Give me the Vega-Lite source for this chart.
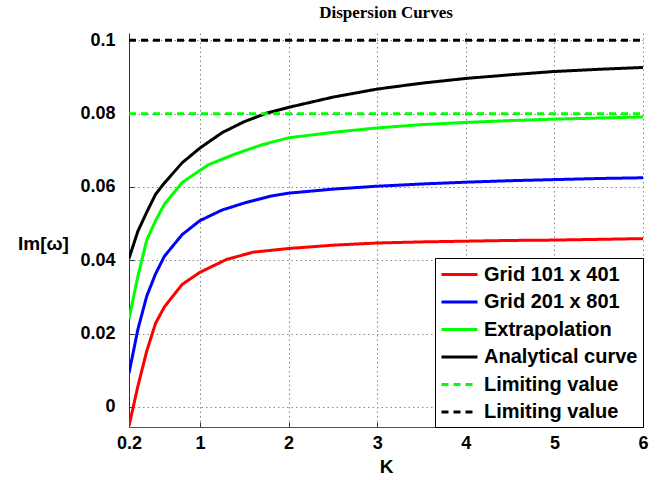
{
  "$schema": "https://vega.github.io/schema/vega-lite/v6.json",
  "width": 514,
  "height": 394,
  "autosize": "none",
  "padding": {"left": 129, "top": 33, "right": 19, "bottom": 53},
  "background": "white",
  "title": {"text": "Dispersion Curves", "font": "Liberation Serif", "fontSize": 17, "fontWeight": "bold", "color": "black", "anchor": "middle", "offset": 9},
  "config": {
    "view": {"stroke": null},
    "axis": {
      "labelFont": "Liberation Sans", "labelFontWeight": "bold", "labelFontSize": 18, "labelColor": "black",
      "titleFont": "Liberation Sans", "titleFontWeight": "bold", "titleFontSize": 19, "titleColor": "black",
      "domainColor": "#333", "tickColor": "#333", "tickSize": -5,
      "gridColor": "#888", "gridDash": [1.5, 3], "gridWidth": 1
    },
    "legend": {
      "labelFont": "Liberation Sans", "labelFontWeight": "bold", "labelFontSize": 20, "labelColor": "black"
    }
  },
  "data": {"values": [
    {"k": 0.2, "v": -0.0052, "s": "Grid 101 x 401"},
    {"k": 0.3, "v": 0.0056, "s": "Grid 101 x 401"},
    {"k": 0.4, "v": 0.0152, "s": "Grid 101 x 401"},
    {"k": 0.5, "v": 0.0228, "s": "Grid 101 x 401"},
    {"k": 0.6, "v": 0.0273, "s": "Grid 101 x 401"},
    {"k": 0.8, "v": 0.0334, "s": "Grid 101 x 401"},
    {"k": 1.0, "v": 0.0367, "s": "Grid 101 x 401"},
    {"k": 1.3, "v": 0.0402, "s": "Grid 101 x 401"},
    {"k": 1.6, "v": 0.0422, "s": "Grid 101 x 401"},
    {"k": 2.0, "v": 0.0432, "s": "Grid 101 x 401"},
    {"k": 2.5, "v": 0.0441, "s": "Grid 101 x 401"},
    {"k": 3.0, "v": 0.0447, "s": "Grid 101 x 401"},
    {"k": 3.5, "v": 0.0450, "s": "Grid 101 x 401"},
    {"k": 4.0, "v": 0.0452, "s": "Grid 101 x 401"},
    {"k": 4.5, "v": 0.0454, "s": "Grid 101 x 401"},
    {"k": 5.0, "v": 0.0455, "s": "Grid 101 x 401"},
    {"k": 5.5, "v": 0.0457, "s": "Grid 101 x 401"},
    {"k": 6.0, "v": 0.0459, "s": "Grid 101 x 401"},
    {"k": 0.2, "v": 0.0092, "s": "Grid 201 x 801"},
    {"k": 0.3, "v": 0.0211, "s": "Grid 201 x 801"},
    {"k": 0.4, "v": 0.0302, "s": "Grid 201 x 801"},
    {"k": 0.5, "v": 0.0363, "s": "Grid 201 x 801"},
    {"k": 0.6, "v": 0.0411, "s": "Grid 201 x 801"},
    {"k": 0.8, "v": 0.0470, "s": "Grid 201 x 801"},
    {"k": 1.0, "v": 0.0508, "s": "Grid 201 x 801"},
    {"k": 1.25, "v": 0.0537, "s": "Grid 201 x 801"},
    {"k": 1.5, "v": 0.0556, "s": "Grid 201 x 801"},
    {"k": 1.8, "v": 0.0575, "s": "Grid 201 x 801"},
    {"k": 2.0, "v": 0.0583, "s": "Grid 201 x 801"},
    {"k": 2.5, "v": 0.0594, "s": "Grid 201 x 801"},
    {"k": 3.0, "v": 0.0602, "s": "Grid 201 x 801"},
    {"k": 3.5, "v": 0.0608, "s": "Grid 201 x 801"},
    {"k": 4.0, "v": 0.0613, "s": "Grid 201 x 801"},
    {"k": 4.5, "v": 0.0617, "s": "Grid 201 x 801"},
    {"k": 5.0, "v": 0.0620, "s": "Grid 201 x 801"},
    {"k": 5.5, "v": 0.0623, "s": "Grid 201 x 801"},
    {"k": 6.0, "v": 0.0625, "s": "Grid 201 x 801"},
    {"k": 0.2, "v": 0.0240, "s": "Extrapolation"},
    {"k": 0.3, "v": 0.0356, "s": "Extrapolation"},
    {"k": 0.4, "v": 0.0455, "s": "Extrapolation"},
    {"k": 0.5, "v": 0.0508, "s": "Extrapolation"},
    {"k": 0.6, "v": 0.0553, "s": "Extrapolation"},
    {"k": 0.8, "v": 0.0612, "s": "Extrapolation"},
    {"k": 1.0, "v": 0.0645, "s": "Extrapolation"},
    {"k": 1.1, "v": 0.0661, "s": "Extrapolation"},
    {"k": 1.4, "v": 0.0690, "s": "Extrapolation"},
    {"k": 1.7, "v": 0.0715, "s": "Extrapolation"},
    {"k": 2.0, "v": 0.0734, "s": "Extrapolation"},
    {"k": 2.5, "v": 0.0749, "s": "Extrapolation"},
    {"k": 3.0, "v": 0.0761, "s": "Extrapolation"},
    {"k": 3.5, "v": 0.0770, "s": "Extrapolation"},
    {"k": 4.0, "v": 0.0776, "s": "Extrapolation"},
    {"k": 4.5, "v": 0.0781, "s": "Extrapolation"},
    {"k": 5.0, "v": 0.0785, "s": "Extrapolation"},
    {"k": 5.5, "v": 0.0788, "s": "Extrapolation"},
    {"k": 6.0, "v": 0.0791, "s": "Extrapolation"},
    {"k": 0.2, "v": 0.0405, "s": "Analytical curve"},
    {"k": 0.3, "v": 0.0479, "s": "Analytical curve"},
    {"k": 0.4, "v": 0.0531, "s": "Analytical curve"},
    {"k": 0.5, "v": 0.0580, "s": "Analytical curve"},
    {"k": 0.6, "v": 0.0611, "s": "Analytical curve"},
    {"k": 0.8, "v": 0.0666, "s": "Analytical curve"},
    {"k": 1.0, "v": 0.0706, "s": "Analytical curve"},
    {"k": 1.25, "v": 0.0748, "s": "Analytical curve"},
    {"k": 1.5, "v": 0.0778, "s": "Analytical curve"},
    {"k": 1.75, "v": 0.0801, "s": "Analytical curve"},
    {"k": 2.0, "v": 0.0817, "s": "Analytical curve"},
    {"k": 2.5, "v": 0.0845, "s": "Analytical curve"},
    {"k": 3.0, "v": 0.0867, "s": "Analytical curve"},
    {"k": 3.5, "v": 0.0883, "s": "Analytical curve"},
    {"k": 4.0, "v": 0.0896, "s": "Analytical curve"},
    {"k": 4.5, "v": 0.0906, "s": "Analytical curve"},
    {"k": 5.0, "v": 0.0915, "s": "Analytical curve"},
    {"k": 5.5, "v": 0.0921, "s": "Analytical curve"},
    {"k": 6.0, "v": 0.0926, "s": "Analytical curve"},
    {"k": 0.2, "v": 0.08, "s": "Limiting value 0.08"},
    {"k": 6.0, "v": 0.08, "s": "Limiting value 0.08"},
    {"k": 0.2, "v": 0.1, "s": "Limiting value 0.1"},
    {"k": 6.0, "v": 0.1, "s": "Limiting value 0.1"}
  ]},
  "mark": {"type": "line", "strokeWidth": 3, "clip": true},
  "encoding": {
    "x": {"field": "k", "type": "quantitative", "title": "K",
      "scale": {"domain": [0.2, 6], "nice": false, "zero": false},
      "axis": {"values": [0.2, 1, 2, 3, 4, 5, 6], "format": "~g", "labelPadding": 12, "titleY": 39, "titleBaseline": "middle", "labelFlush": false, "domainColor": "#555"}},
    "y": {"field": "v", "type": "quantitative", "title": "Im[ω]",
      "scale": {"domain": [-0.0055, 0.102], "nice": false, "zero": false},
      "axis": {"values": [0, 0.02, 0.04, 0.06, 0.08, 0.1], "format": "~g", "labelPadding": 19, "titleAngle": 0, "titleAlign": "center", "titleBaseline": "middle", "titleX": -86, "titleY": 210, "labelFlush": false}},
    "color": {"field": "s", "type": "nominal",
      "scale": {"domain": ["Grid 101 x 401", "Grid 201 x 801", "Extrapolation", "Analytical curve", "Limiting value 0.08", "Limiting value 0.1"],
                "range": ["#ff0000", "#0000ff", "#00ff00", "#000000", "#00ff00", "#000000"]},
      "legend": {"title": null, "orient": "bottom-right", "offset": 0, "symbolType": "M-1,0H2.6", "symbolSize": 400, "symbolStrokeWidth": 3,
        "labelOffset": 21, "rowPadding": 5.5, "padding": 5, "strokeColor": "black", "fillColor": "white",
        "labelExpr": "indexof(datum.label, 'Limiting') == 0 ? 'Limiting value' : datum.label"}},
    "strokeDash": {"field": "s", "type": "nominal",
      "scale": {"domain": ["Grid 101 x 401", "Grid 201 x 801", "Extrapolation", "Analytical curve", "Limiting value 0.08", "Limiting value 0.1"],
                "range": [[1, 0], [1, 0], [1, 0], [1, 0], [7, 5], [7, 5]]},
      "legend": {"title": null, "orient": "bottom-right", "offset": 0, "symbolType": "M-1,0H2.6", "symbolSize": 400, "symbolStrokeWidth": 3,
        "labelOffset": 21, "rowPadding": 5.5, "padding": 5, "strokeColor": "black", "fillColor": "white",
        "labelExpr": "indexof(datum.label, 'Limiting') == 0 ? 'Limiting value' : datum.label"}}
  }
}
